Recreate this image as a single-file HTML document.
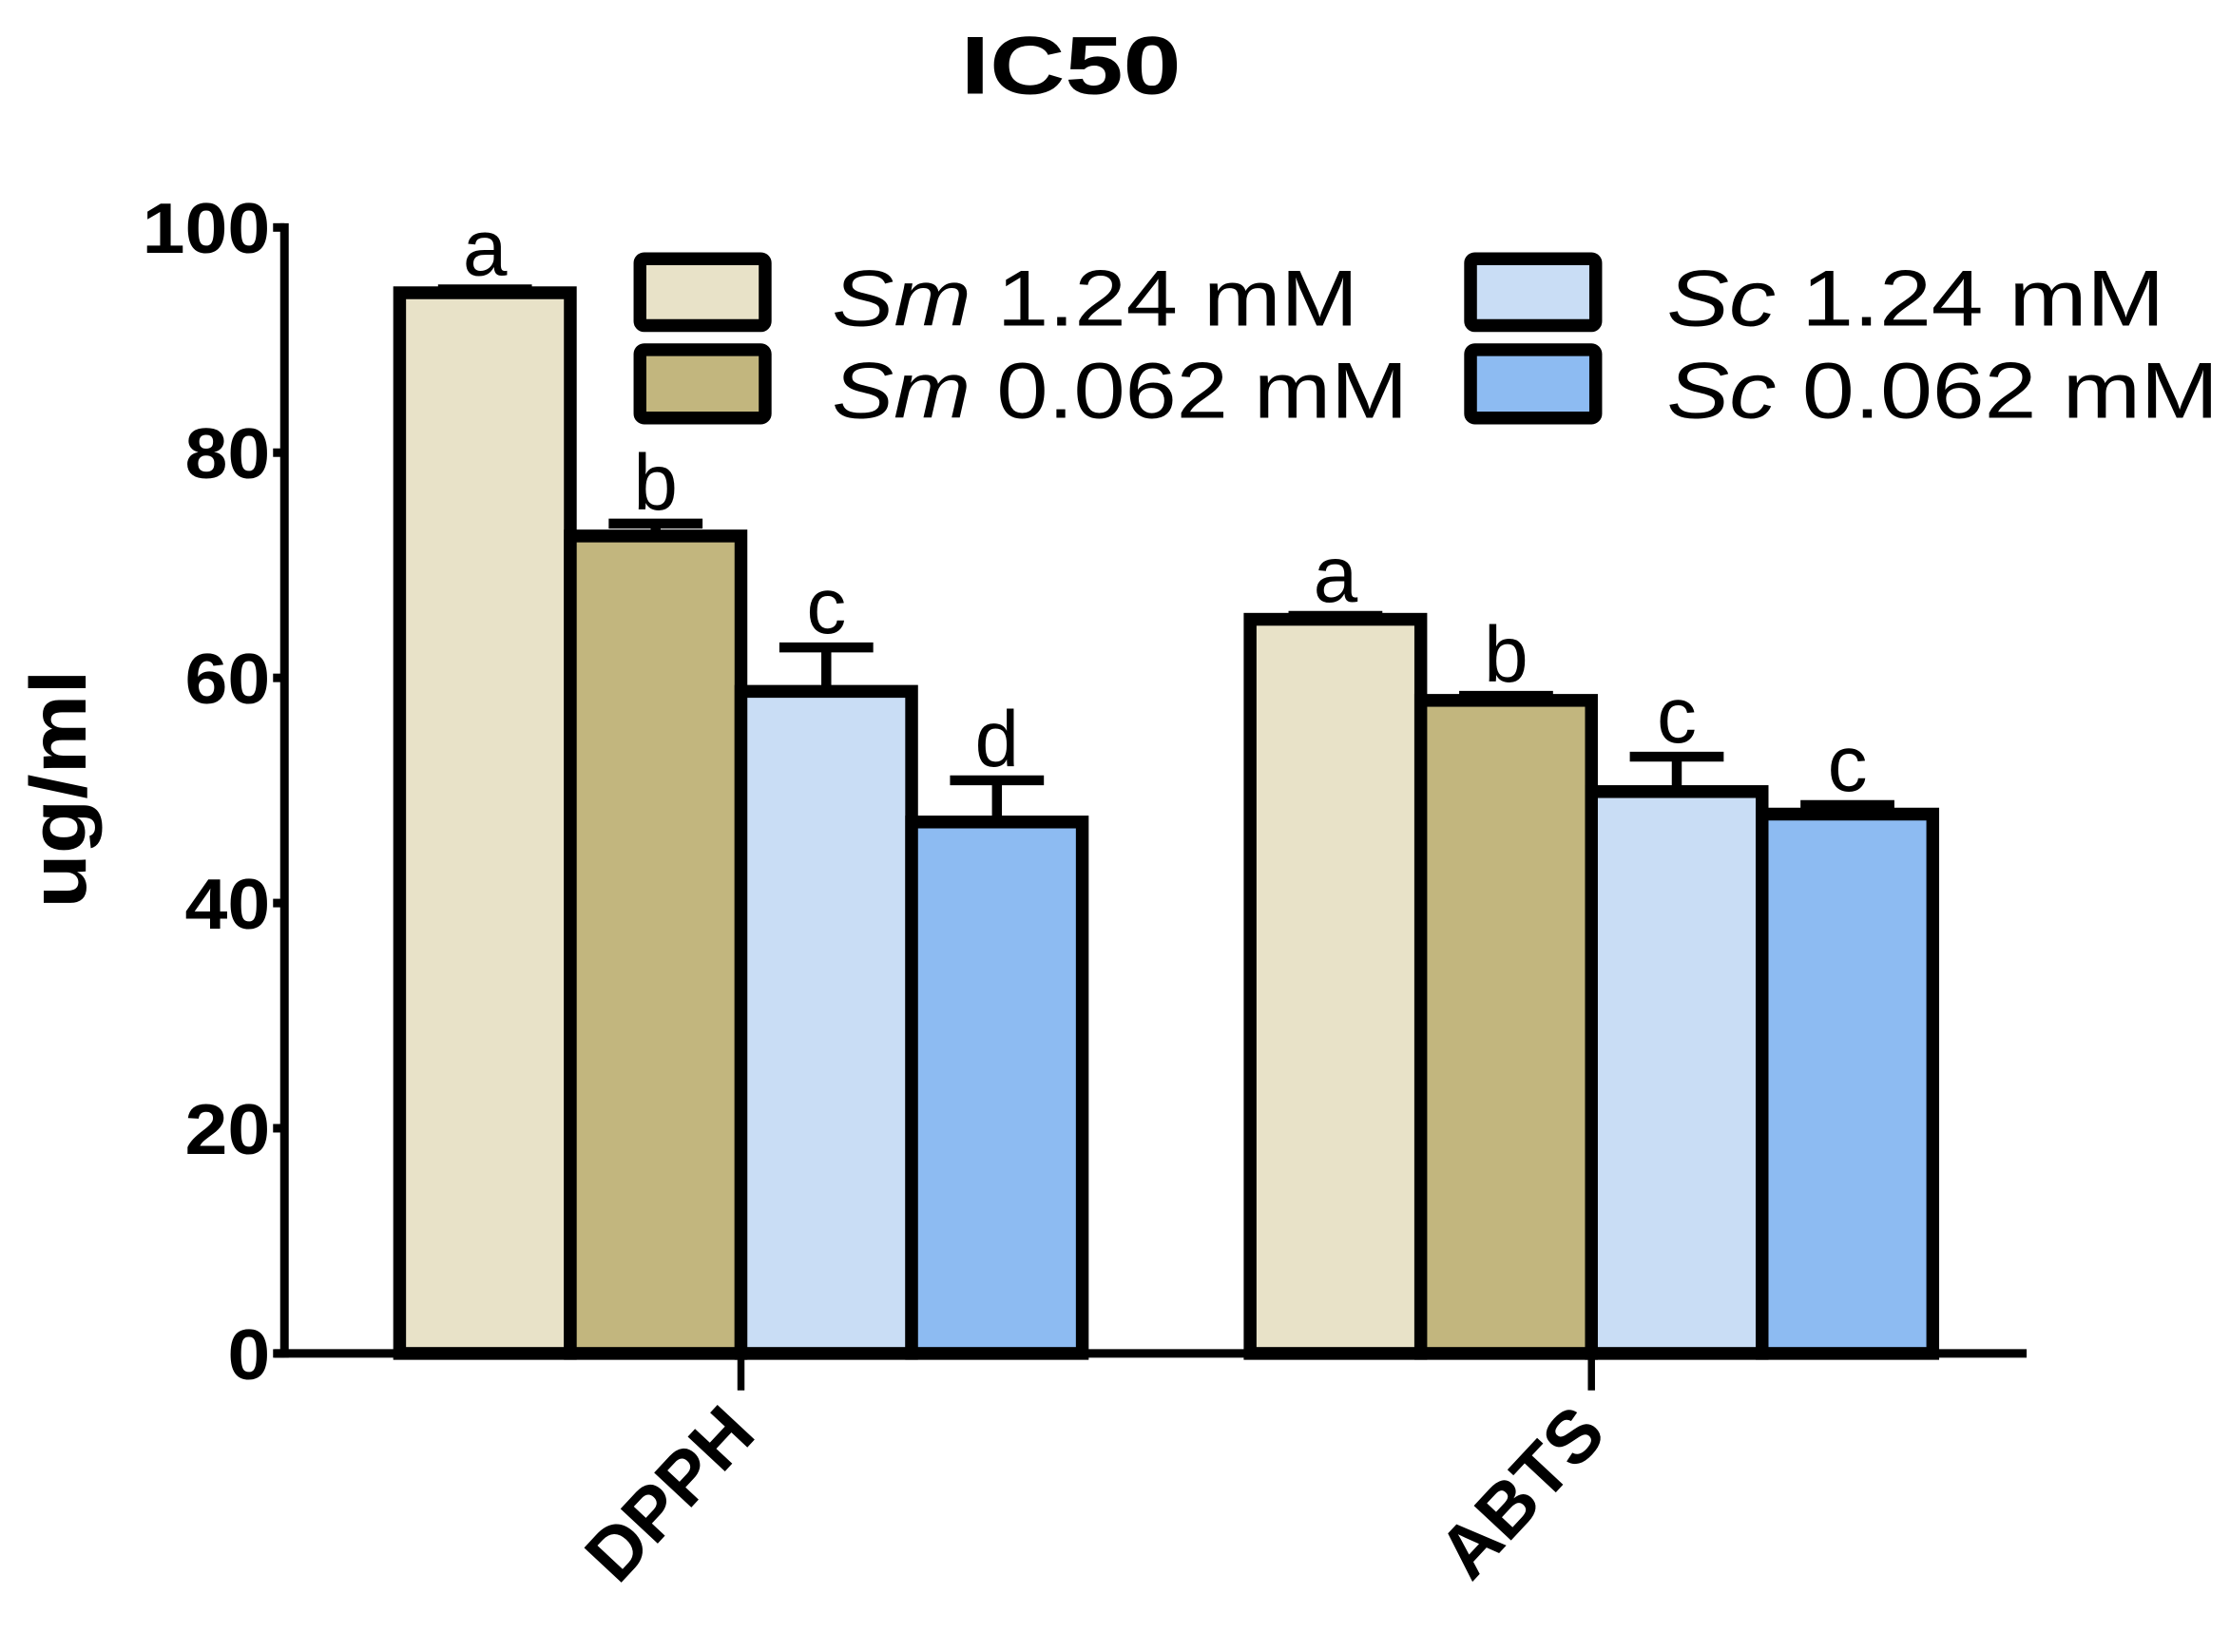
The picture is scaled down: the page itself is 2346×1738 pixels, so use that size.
<!DOCTYPE html>
<html><head><meta charset="utf-8"><style>html,body{margin:0;padding:0;background:#fff}svg{display:block}</style></head>
<body>
<svg id="chart" width="2346" height="1738" viewBox="0 0 1568 1162" preserveAspectRatio="none" xmlns="http://www.w3.org/2000/svg" font-family="Liberation Sans, Arial, sans-serif">
<text x="753" y="66" font-size="58" font-weight="bold" text-anchor="middle" textLength="155" lengthAdjust="spacingAndGlyphs">IC50</text>
<text transform="translate(60,555) rotate(-90)" font-size="56" font-weight="bold" text-anchor="middle" textLength="168" lengthAdjust="spacingAndGlyphs">ug/ml</text>
<g id="axes"></g>
<g id="bars"></g>
<g id="legend">
  <rect x="450" y="182" width="88" height="47" fill="#E8E2C8" stroke="#000" stroke-width="9" rx="3"/>
  <rect x="450" y="246" width="88" height="48" fill="#C2B67E" stroke="#000" stroke-width="9" rx="3"/>
  <rect x="1034" y="182" width="88" height="47" fill="#C9DDF5" stroke="#000" stroke-width="9" rx="3"/>
  <rect x="1034" y="246" width="88" height="48" fill="#8DBBF2" stroke="#000" stroke-width="9" rx="3"/>
  <text x="585" y="229" font-size="56" textLength="370" lengthAdjust="spacingAndGlyphs"><tspan font-style="italic">Sm</tspan> 1.24 mM</text>
  <text x="585" y="294" font-size="56" textLength="405" lengthAdjust="spacingAndGlyphs"><tspan font-style="italic">Sm</tspan> 0.062 mM</text>
  <text x="1172" y="229" font-size="56" textLength="350" lengthAdjust="spacingAndGlyphs"><tspan font-style="italic">Sc</tspan> 1.24 mM</text>
  <text x="1172" y="294" font-size="56" textLength="388" lengthAdjust="spacingAndGlyphs"><tspan font-style="italic">Sc</tspan> 0.062 mM</text>
</g>
</svg>
<script>
const categories = ['DPPH', 'ABTS'];
const seriesNames = ['Sm 1.24 mM', 'Sm 0.062 mM', 'Sc 1.24 mM', 'Sc 0.062 mM'];
const sm124 = [94.2, 65.2];
const sm0062 = [72.6, 58.0];
const sc124 = [58.8, 49.9];
const sc0062 = [47.2, 47.9];
const errSm124 = [0.3, 0.3];
const errSm0062 = [1.1, 0.4];
const errSc124 = [3.9, 3.1];
const errSc0062 = [3.7, 0.8];
const lettersDPPH = ['a', 'b', 'c', 'd'];
const lettersABTS = ['a', 'b', 'c', 'c'];
const yTicks = [0, 20, 40, 60, 80, 100];

const NS = 'http://www.w3.org/2000/svg';
const x0 = 200, yBase = 952, yTop = 160;
function y(v) { return yBase - (v / 100) * (yBase - yTop); }
const groupStart = [281, 879];
const barW = 120;
function barX(g, s) { return groupStart[g] + s * barW; }
const colors = ['#E8E2C8', '#C2B67E', '#C9DDF5', '#8DBBF2'];
const values = [sm124, sm0062, sc124, sc0062];
const errs = [errSm124, errSm0062, errSc124, errSc0062];
const letters = [lettersDPPH, lettersABTS];

function mk(tag, attrs, parent) {
  const e = document.createElementNS(NS, tag);
  for (const k in attrs) e.setAttribute(k, attrs[k]);
  parent.appendChild(e);
  return e;
}
const axes = document.getElementById('axes');
const bars = document.getElementById('bars');

for (let g = 0; g < categories.length; g++) {
  for (let s = 0; s < 4; s++) {
    const v = values[s][g], e = errs[s][g];
    const bx = barX(g, s);
    const cx = bx + barW / 2;
    const ln = mk('line', {x1: cx, x2: cx, y1: y(v), y2: y(v + e), stroke: '#000', 'stroke-width': 7}, bars);
    
    
    const cap = mk('line', {x1: cx - 33, x2: cx + 33, y1: y(v + e), y2: y(v + e), stroke: '#000', 'stroke-width': 7}, bars);
    
    
    const r = mk('rect', {x: bx, y: y(v), width: barW, height: yBase - y(v), fill: colors[s], stroke: '#000', 'stroke-width': 9}, bars);
    
    
    const t = mk('text', {x: cx, y: y(v + e) - 10, 'font-size': 56, 'text-anchor': 'middle'}, bars);
    t.textContent = letters[g][s];
    
    
  }
}

const ya = mk('line', {x1: x0, x2: x0, y1: yTop - 3, y2: yBase + 3, stroke: '#000', 'stroke-width': 6}, axes);


const xa = mk('line', {x1: 193, x2: 1425, y1: yBase, y2: yBase, stroke: '#000', 'stroke-width': 6}, axes);


yTicks.forEach(v => {
  const tk = mk('line', {x1: 192, x2: x0, y1: y(v), y2: y(v), stroke: '#000', 'stroke-width': 6}, axes);
  
  
  const s = String(v);
  const tl = mk('text', {x: 190, y: y(v) + 18, 'font-size': 50, 'font-weight': 'bold', 'text-anchor': 'end', textLength: 30 * s.length, lengthAdjust: 'spacingAndGlyphs'}, axes);
  tl.textContent = s;
  
  
});
categories.forEach((c, g) => {
  const cx = barX(g, 2);
  const tk = mk('line', {x1: cx, x2: cx, y1: yBase, y2: yBase + 26, stroke: '#000', 'stroke-width': 5}, axes);
  
  
  const tl = mk('text', {transform: 'translate(' + (cx + 12) + ',' + (yBase + 58) + ') rotate(-47)', 'font-size': 52, 'font-weight': 'bold', 'text-anchor': 'end'}, axes);
  tl.textContent = c;
  
  
});
</script>
</body></html>
